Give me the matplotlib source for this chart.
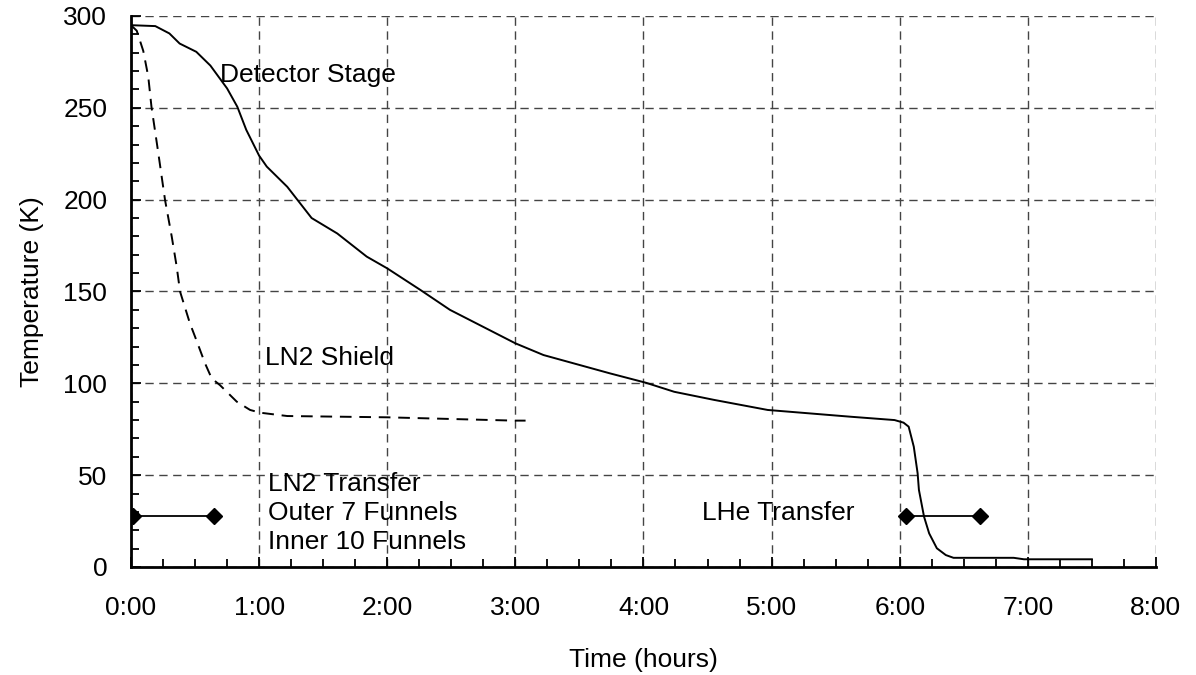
import numpy as np
import matplotlib
matplotlib.use('Agg')
from matplotlib import pyplot as plt
from matplotlib.ticker import MultipleLocator

# Data (time in hours, temperature in K)
detector_t = [0.0, 0.19, 0.30, 0.38, 0.51, 0.62, 0.75, 0.83, 0.90, 1.0, 1.06, 1.22,
              1.41, 1.61, 1.84, 2.0, 2.26, 2.49, 3.0, 3.22, 3.74, 4.02, 4.24, 4.55,
              4.97, 5.62, 5.96, 6.03, 6.07, 6.11, 6.14, 6.15, 6.19, 6.23, 6.29, 6.36,
              6.42, 6.89, 6.97, 7.5]
detector_T = [295, 294.5, 290.5, 285, 280.5, 273, 260.6, 250.6, 238, 224, 218, 207,
              190, 181.6, 169, 162.6, 150.8, 140, 121.8, 115.4, 105.4, 100.3, 95.4, 91,
              85.5, 81.8, 80, 78.6, 76.4, 65.5, 51, 42, 27.4, 18.3, 10.2, 6.5,
              5, 5, 4.2, 4.2]

shield_t = [0.0, 0.045, 0.096, 0.135, 0.16, 0.21, 0.266, 0.318, 0.357, 0.383, 0.46,
            0.51, 0.578, 0.63, 0.695, 0.826, 0.93, 1.01, 1.22, 2.0, 2.99, 3.08]
shield_T = [295, 292, 281, 267, 250.6, 227, 199.8, 180, 163.5, 150, 132.7,
            123.6, 110.9, 102.7, 99, 90, 85.5, 84, 82.2, 81.5, 79.7, 79.7]

ln2_transfer_t = [0.017, 0.65]
lhe_transfer_t = [6.05, 6.63]
transfer_T = 27.5

time_ticks = [0, 1, 2, 3, 4, 5, 6, 7, 8]
time_labels = ['0:00', '1:00', '2:00', '3:00', '4:00', '5:00', '6:00', '7:00', '8:00']
temp_ticks = [0, 50, 100, 150, 200, 250, 300]

plt.rcParams['font.family'] = ['Liberation Sans', 'DejaVu Sans']
plt.rcParams['font.size'] = 19

fig = plt.figure(figsize=(11.96, 6.75), dpi=100)
ax = fig.add_axes([0.1095, 0.16, 0.857, 0.8163])

# kurva
ax.plot(detector_t, detector_T, color='black', lw=1.4)
ax.plot(shield_t, shield_T, color='black', lw=1.4, linestyle=(0, (6, 4)))

# penanda transfer
ax.plot(ln2_transfer_t, [transfer_T, transfer_T], color='black', lw=1.3,
        marker='D', markersize=8)
ax.plot(lhe_transfer_t, [transfer_T, transfer_T], color='black', lw=1.3,
        marker='D', markersize=8)

# teks
ax.text(0.695, 268, 'Detector Stage', ha='left', va='center')
ax.text(1.05, 114, 'LN2 Shield', ha='left', va='center')
ax.text(1.07, 29.4, 'LN2 Transfer\nOuter 7 Funnels\nInner 10 Funnels', ha='left',
        va='center', linespacing=1.25)
ax.text(4.46, 29.4, 'LHe Transfer', ha='left', va='center')

ax.set_xlim(0, 8)
ax.set_ylim(0, 300)
ax.set_xticks(time_ticks)
ax.set_xticklabels(time_labels)
ax.set_yticks(temp_ticks)
ax.xaxis.set_minor_locator(MultipleLocator(0.25))
ax.yaxis.set_minor_locator(MultipleLocator(10))

ax.tick_params(which='both', direction='in', width=1.3)
ax.tick_params(which='major', length=7)
ax.tick_params(which='minor', length=6)
ax.tick_params(axis='x', which='major', pad=21)
ax.tick_params(axis='y', which='major', pad=17)

ax.grid(True, which='major', color='#444444', linestyle=(0, (6, 4)), lw=1)
ax.spines['top'].set_visible(False)
ax.spines['right'].set_visible(False)
ax.spines['left'].set_linewidth(2)
ax.spines['bottom'].set_linewidth(2)

ax.set_xlabel('Time (hours)', labelpad=20)
ax.set_ylabel('Temperature (K)', labelpad=14)

plt.savefig('out.png', dpi=100)
